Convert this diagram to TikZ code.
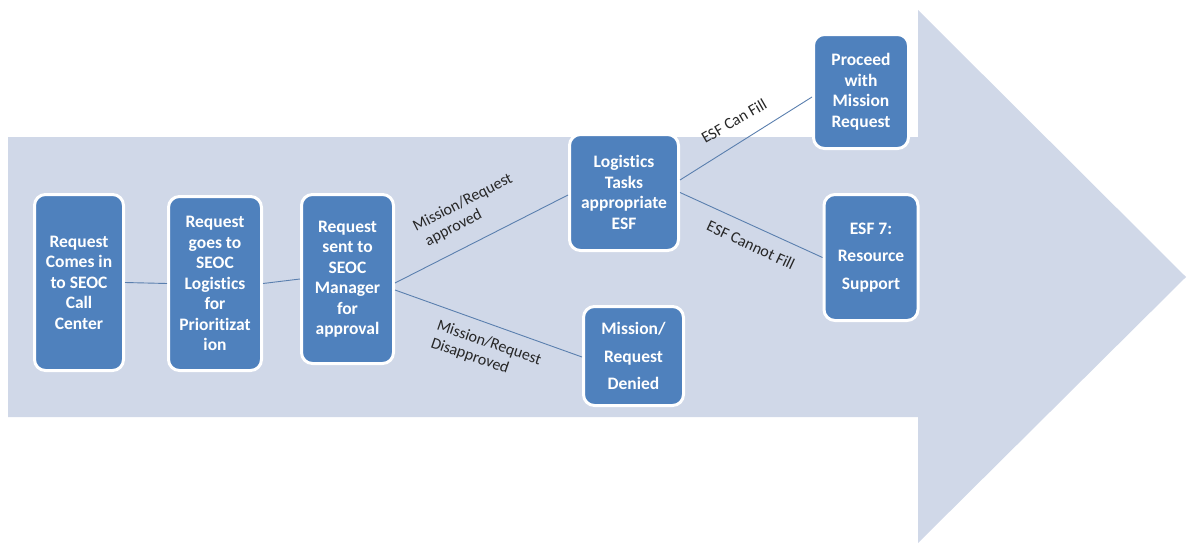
\documentclass[tikz,border=0pt]{standalone}
\usepackage{fontspec}
\setmainfont[Ligatures=NoCommon]{Carlito}
\definecolor{boxblue}{HTML}{4F81BD}
\definecolor{bandblue}{HTML}{D0D8E8}
\definecolor{linkblue}{HTML}{5A7FAE}
\definecolor{labelgray}{HTML}{262626}
\begin{document}
\begin{tikzpicture}[x=1pt,y=-1pt,
  stepbox/.style={draw=white, line width=3pt, fill=boxblue, rounded corners=11pt,
    text=white, font=\bfseries\fontsize{17.5}{20.5}\selectfont, align=center, inner sep=0pt},
  widebox/.style={stepbox, font=\bfseries\fontsize{17.5}{27.5}\selectfont},
  link/.style={draw=linkblue, line width=0.9pt},
  linklabel/.style={font=\fontsize{16}{18.5}\selectfont, text=labelgray, align=left, inner sep=0pt}]
\useasboundingbox (0,0) rectangle (1192,546);
% background process arrow
\fill[bandblue] (8,137) -- (918,137) -- (918,10) -- (1186,277) -- (918,543)
  -- (918,417) -- (8,417) -- cycle;
% steps
\node[stepbox, minimum width=89pt, minimum height=176pt] (b1) at (79,282.5)
  {Request\\Comes in\\to SEOC\\Call\\Center};
\node[stepbox, minimum width=93pt, minimum height=174pt] (b2) at (215,283.5)
  {Request\\goes to\\SEOC\\Logistics\\for\\Prioritizat\\ion};
\node[stepbox, minimum width=92pt, minimum height=169pt] (b3) at (347.5,279)
  {Request\\sent to\\SEOC\\Manager\\for\\approval};
\node[stepbox, minimum width=109pt, minimum height=116pt] (b4) at (624,192.5)
  {Logistics\\Tasks\\appropriate\\ESF};
\node[widebox, minimum width=100pt, minimum height=99pt] (b5) at (633.5,356)
  {Mission/\\Request\\Denied};
\node[stepbox, minimum width=95pt, minimum height=114pt] (b6) at (861,91.5)
  {Proceed\\with\\Mission\\Request};
\node[widebox, minimum width=94pt, minimum height=126pt] (b7) at (871,257.5)
  {ESF 7:\\Resource\\Support};
% connectors
\draw[link] (b1.east) -- (b2.west);
\draw[link] (b2.east) -- (b3.west);
\draw[link] ([yshift=-4pt]b3.east) -- ([yshift=-2.5pt]b4.west);
\draw[link] ([yshift=-11pt]b3.east) -- ([yshift=-1pt]b5.west);
\draw[link] ([yshift=12.5pt]b4.east) -- ([yshift=-5.5pt]b6.west);
\draw[link] (b4.east) -- (b7.west);
% connector labels
\node[linklabel, rotate=27] (l1) at (467,211) {Mission/Request\\\hspace*{4pt}approved};
\node[linklabel, rotate=-19] (l2) at (486,352) {Mission/Request\\Disapproved};
\node[linklabel, rotate=30] (l3) at (734,121) {ESF Can Fill};
\node[linklabel, rotate=-25] (l4) at (751,245) {ESF Cannot Fill};
\end{tikzpicture}
\end{document}
